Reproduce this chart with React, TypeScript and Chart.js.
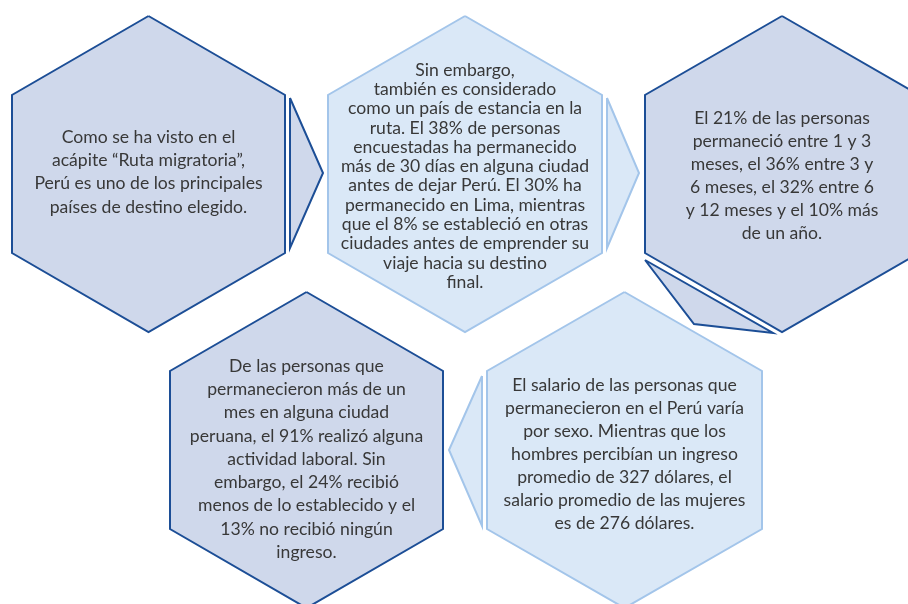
import React, { useEffect, useRef } from "react";
import { Chart, registerables } from "chart.js";

Chart.register(...registerables);

// Hexagon boxes: centre x, centre y, half width, half height, shoulder offset
const hexNames = ["h1", "h2", "h3", "h4", "h5"];
const hexCx = [148.5, 465, 782, 306.5, 624.5];
const hexCy = [174, 174, 174, 450, 450];
const hexHalfW = [136.5, 137, 137, 136.5, 137.5];
const hexHalfH = [158, 158, 158, 158, 158];
const hexShoulder = [79, 79, 79, 79, 79];
const hexTone = ["dark", "light", "dark", "dark", "light"];

// Arrow triangles (three points each)
const arrowX = [
  [290, 323, 290],
  [607, 639, 607],
  [645, 694, 773],
  [482, 449, 482],
];
const arrowY = [
  [98, 173, 248],
  [98, 173, 248],
  [260, 324, 333],
  [376, 450, 526],
];
const arrowTone = ["dark", "light", "dark", "light"];

// Text in each hexagon
const hexLines = [
  ["Como se ha visto en el", "acápite “Ruta migratoria”,", "Perú es uno de los principales", "países de destino elegido."],
  [
    "Sin embargo,",
    "también es considerado",
    "como un país de estancia en la",
    "ruta. El 38% de personas",
    "encuestadas ha permanecido",
    "más de 30 días en alguna ciudad",
    "antes de dejar Perú. El 30% ha",
    "permanecido en Lima, mientras",
    "que el 8% se estableció en otras",
    "ciudades antes de emprender su",
    "viaje hacia su destino",
    "final.",
  ],
  ["El 21% de las personas", "permaneció entre 1 y 3", "meses, el 36% entre 3 y", "6 meses, el 32% entre 6", "y 12 meses y el 10% más", "de un año."],
  [
    "De las personas que",
    "permanecieron más de un",
    "mes en alguna ciudad",
    "peruana, el 91% realizó alguna",
    "actividad laboral. Sin",
    "embargo, el 24% recibió",
    "menos de lo establecido y el",
    "13% no recibió ningún",
    "ingreso.",
  ],
  [
    "El salario de las personas que",
    "permanecieron en el Perú varía",
    "por sexo. Mientras que los",
    "hombres percibían un ingreso",
    "promedio de 327 dólares, el",
    "salario promedio de las mujeres",
    "es de 276 dólares.",
  ],
];
const textFirstY = [137, 70, 118, 366, 385];
const textLineGap = [23.3, 19.3, 23, 23.3, 23];

const FILL = { dark: "rgb(207,216,235)", light: "rgb(218,232,247)" };
const STROKE = { dark: "rgb(28,78,150)", light: "rgb(163,197,234)" };

function hexPoints(i: number) {
  const cx = hexCx[i], cy = hexCy[i], w = hexHalfW[i], h = hexHalfH[i], s = hexShoulder[i];
  const pts = [
    { x: cx, y: cy - h },
    { x: cx + w, y: cy - s },
    { x: cx + w, y: cy + s },
    { x: cx, y: cy + h },
    { x: cx - w, y: cy + s },
    { x: cx - w, y: cy - s },
  ];
  pts.push({ ...pts[0] });
  return pts;
}

function arrowPoints(i: number) {
  const pts = arrowX[i].map((x, k) => ({ x, y: arrowY[i][k] }));
  pts.push({ ...pts[0] });
  return pts;
}

const textPlugin = {
  id: "hexText",
  afterDatasetsDraw(chart: any) {
    const ctx = chart.ctx;
    const xs = chart.scales.x;
    const ys = chart.scales.y;
    ctx.save();
    ctx.fillStyle = "#383838";
    ctx.font = "17.6px Lato";
    ctx.textAlign = "center";
    ctx.textBaseline = "middle";
    hexLines.forEach((lines, i) => {
      lines.forEach((t, k) => {
        const px = xs.getPixelForValue(hexCx[i]);
        const py = ys.getPixelForValue(textFirstY[i] + k * textLineGap[i]);
        ctx.fillText(t, px, py);
      });
    });
    ctx.restore();
  },
};

export default function App() {
  const ref = useRef<HTMLCanvasElement | null>(null);
  useEffect(() => {
    if (!ref.current) return;
    const datasets: any[] = [];
    hexNames.forEach((n, i) => {
      const tone = hexTone[i] as "dark" | "light";
      datasets.push({
        label: n,
        data: hexPoints(i),
        showLine: true,
        fill: "shape",
        backgroundColor: FILL[tone],
        borderColor: STROKE[tone],
        borderWidth: 2,
        borderJoinStyle: "miter",
        pointRadius: 0,
        tension: 0,
        clip: false,
      });
    });
    arrowX.forEach((_, i) => {
      const tone = arrowTone[i] as "dark" | "light";
      datasets.push({
        label: "a" + i,
        data: arrowPoints(i),
        showLine: true,
        fill: "shape",
        backgroundColor: FILL[tone],
        borderColor: STROKE[tone],
        borderWidth: 2,
        borderJoinStyle: "miter",
        pointRadius: 0,
        tension: 0,
        clip: false,
      });
    });
    const chart = new Chart(ref.current, {
      type: "scatter",
      data: { datasets },
      options: {
        animation: false,
        responsive: true,
        maintainAspectRatio: false,
        layout: { padding: 0 },
        plugins: { legend: { display: false }, tooltip: { enabled: false } },
        scales: {
          x: { type: "linear", min: 0, max: 908, display: false },
          y: { type: "linear", min: 0, max: 604, reverse: true, display: false },
        },
      },
      plugins: [textPlugin],
    });
    return () => chart.destroy();
  }, []);
  return (
    <div style={{ position: "fixed", left: 0, top: 0, width: "908px", height: "604px", background: "#ffffff" }}>
      <canvas ref={ref} />
    </div>
  );
}
